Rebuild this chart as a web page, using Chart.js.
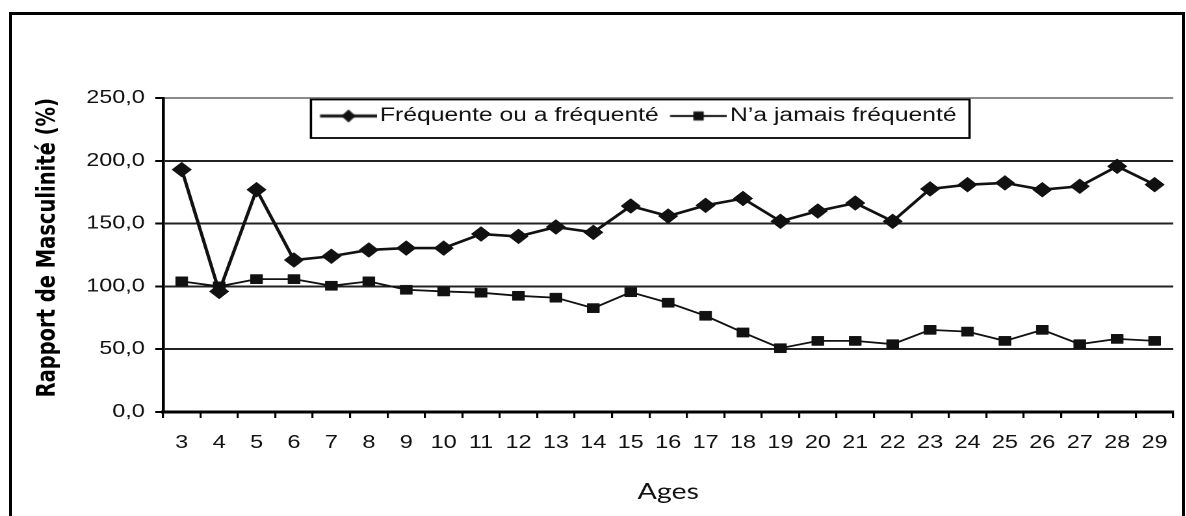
<!DOCTYPE html>
<html>
<head>
<meta charset="utf-8">
<script src="https://cdn.jsdelivr.net/npm/chart.js@4.4.1/dist/chart.umd.min.js"></script>
<style>
  html, body { margin: 0; padding: 0; background: #fff; overflow: hidden; width: 1186px; height: 516px; }
  #frame { position: absolute; left: 9px; top: 12px; width: 1170px; height: 520px; border: 3px solid #000; border-bottom: none; z-index: 2; pointer-events: none; }
  #wrap { position: absolute; left: 0; top: 0; width: 912.3px; height: 516px; transform: scaleX(1.3); transform-origin: 0 0; }
</style>
</head>
<body>
<div id="wrap"><canvas id="c"></canvas></div>
<div id="frame"></div>
<script>
// ---- data ----
const ages = ['3','4','5','6','7','8','9','10','11','12','13','14','15','16','17','18','19','20','21','22','23','24','25','26','27','28','29'];
const frequente = [193, 96, 177, 121, 124, 129, 130.5, 130.5, 141.7, 139.8, 147.3, 143, 164, 156, 164.5, 170, 151.8, 160, 166.4, 151.8, 177.6, 181, 182.4, 177, 179.7, 195.6, 181];
const jamais = [104, 100, 105.8, 105.8, 100.5, 104, 97.3, 96, 95, 92.5, 91, 82.7, 95.4, 87, 76.6, 63.3, 50.8, 56.6, 56.6, 54, 65.4, 64, 56.6, 65.4, 54, 58.2, 56.6];
const yTickValues = [0, 50, 100, 150, 200, 250];
const seriesNames = ['Fréquente ou a fréquenté', 'N\u2019a jamais fréquenté'];
const xTitle = 'Ages';
const yTitle = 'Rapport de Masculinité (%)';

// ---- styling ----
const SANS = "'Liberation Sans', Arial, sans-serif";
const INK = '#111';
const LEG_PAD = 8.7;
const LEG_FONT = 19;
const PLOT_TOP = 98;
const LEG_HEIGHT = LEG_FONT + LEG_PAD + 10; // height Chart.js gives a one-row top legend

function makeMarker(kind) {
  const c = document.createElement('canvas');
  c.width = 51; c.height = 16;
  const g = c.getContext('2d');
  g.fillStyle = INK; g.strokeStyle = INK;
  g.lineWidth = kind === 'diamond' ? 3 : 2.2;
  g.beginPath(); g.moveTo(7.2, 8); g.lineTo(51, 8); g.stroke();
  const cx = 29.1, cy = 8;
  g.beginPath();
  if (kind === 'diamond') {
    g.moveTo(cx - 5.5, cy); g.lineTo(cx, cy - 6.5); g.lineTo(cx + 5.5, cy); g.lineTo(cx, cy + 6.5); g.closePath();
  } else {
    g.rect(cx - 4, cy - 4.5, 8, 9);
  }
  g.fill();
  return c;
}
const markers = [makeMarker('diamond'), makeMarker('square')];

const legendPlace = {
  id: 'legendPlace',
  beforeDraw(chart) {
    const lg = chart.legend;
    if (!lg) return;
    const w = lg.width, h = lg.height;
    lg.left = 246.2 - LEG_PAD;
    lg.right = lg.left + w;
    lg.top = 97.8;
    lg.bottom = lg.top + h;
  },
  afterDraw(chart) {
    const lg = chart.legend;
    if (!lg) return;
    const ctx = chart.ctx;
    const rowW = (lg.lineWidths && lg.lineWidths[0]) || 0;
    const l = lg.left + LEG_PAD - 7;
    const r = lg.left + rowW + 10;
    ctx.save();
    ctx.strokeStyle = '#000';
    ctx.lineWidth = 1.8;
    ctx.strokeRect(l, lg.top + 1.7, r - l, 38.5);
    ctx.restore();
  }
};

new Chart(document.getElementById('c'), {
  type: 'line',
  data: {
    labels: ages,
    datasets: [
      { label: seriesNames[0], data: frequente, borderColor: INK, backgroundColor: INK, borderWidth: 2.6,
        pointStyle: 'rectRot', pointRadius: 7.5, pointHoverRadius: 7.5, pointBorderWidth: 0.5, tension: 0, fill: false },
      { label: seriesNames[1], data: jamais, borderColor: INK, backgroundColor: INK, borderWidth: 1.8,
        pointStyle: 'rect', pointRadius: 6.5, pointHoverRadius: 6.5, pointBorderWidth: 0.5, tension: 0, fill: false }
    ]
  },
  options: {
    responsive: true,
    maintainAspectRatio: false,
    animation: false,
    devicePixelRatio: 2,
    layout: { padding: { top: PLOT_TOP - LEG_HEIGHT, right: 3.8, bottom: 0, left: 0 } },
    plugins: {
      tooltip: { enabled: false },
      title: { display: false },
      legend: {
        position: 'top',
        align: 'start',
        labels: {
          usePointStyle: true,
          pointStyleWidth: 36.6,
          boxHeight: LEG_FONT,
          padding: LEG_PAD,
          color: INK,
          font: { family: SANS, size: LEG_FONT },
          generateLabels(chart) {
            const items = Chart.defaults.plugins.legend.labels.generateLabels(chart);
            items.forEach((it, i) => { it.pointStyle = markers[i]; });
            return items;
          }
        }
      }
    },
    scales: {
      x: {
        type: 'category',
        offset: true,
        grid: { display: true, drawOnChartArea: false, drawTicks: true, tickLength: 6, offset: true, color: '#000', lineWidth: 1.6 },
        border: { display: true, color: '#000', width: 3 },
        ticks: { color: INK, font: { family: SANS, size: 18 }, padding: 14, maxRotation: 0, autoSkip: false },
        title: { display: true, text: xTitle, color: INK, font: { family: 'Lato', size: 22 }, padding: { top: 0, bottom: 11 } },
        afterFit(s) { s.height = 104; }
      },
      y: {
        min: 0,
        max: 250,
        afterBuildTicks(s) { s.ticks = yTickValues.map(v => ({ value: v })); },
        ticks: { color: INK, font: { family: SANS, size: 18 }, padding: 8,
                 callback: (v) => Number(v).toFixed(1).replace('.', ',') },
        grid: { color: (c) => (c.tick && c.tick.value === 250) ? '#8a8a8a' : '#222', lineWidth: 2,
                drawTicks: true, tickLength: 6, tickColor: '#000' },
        border: { display: true, color: '#000', width: 2.3 },
        title: { display: true, text: yTitle, align: 'end', color: '#000',
                 font: { family: 'DejaVu Sans', weight: 'bold', size: 19.5 }, padding: { top: 25.2, bottom: 0 } },
        afterFit(s) { s.width = 125.4; }
      }
    }
  },
  plugins: [legendPlace]
});
</script>
</body>
</html>
